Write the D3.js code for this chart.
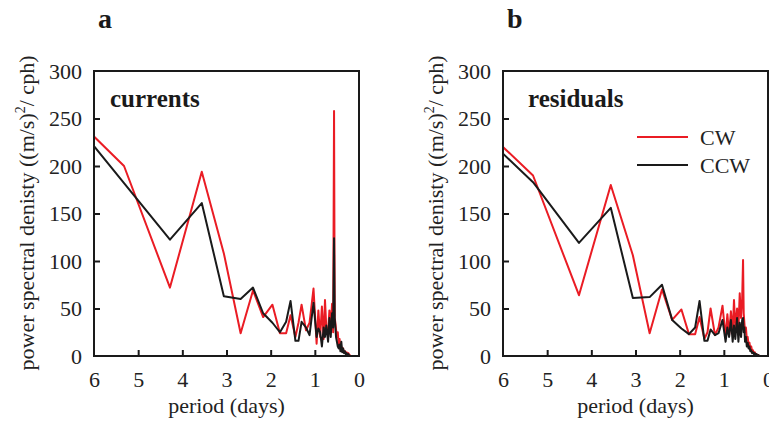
<!DOCTYPE html>
<html><head><meta charset="utf-8">
<script src="https://cdn.jsdelivr.net/npm/d3@7"></script>
<style>body{margin:0;background:#fff}svg{display:block}</style>
</head><body>
<svg id="c" width="769" height="424"></svg>
<script>
// period (days) for each spectral estimate
const periods = [6, 5.32, 4.28, 3.56, 3.06, 2.68, 2.40, 2.17, 1.96, 1.79,
  1.65, 1.55, 1.44, 1.37, 1.30, 1.20, 1.12, 1.03, 0.96, 0.92,
  0.88, 0.84, 0.80, 0.77, 0.74, 0.70, 0.67, 0.64, 0.61, 0.585,
  0.565, 0.55, 0.535, 0.52, 0.50, 0.48, 0.46, 0.44, 0.42, 0.40,
  0.38, 0.36, 0.34, 0.32, 0.30, 0.28, 0.26, 0.24, 0.22, 0.20];
// panel a: currents
const cwCurrents = [231, 200, 72, 194, 108, 24, 69, 41, 54, 24,
  24, 43, 20, 35, 54, 27, 35, 71, 13, 48,
  20, 52, 18, 59, 30, 25, 48, 30, 55, 25,
  258, 40, 35, 28, 20, 25, 12, 18, 8, 10,
  6, 8, 4, 5, 3, 4, 2, 3, 1, 2];
const ccwCurrents = [221, 182, 122.5, 161, 63, 60, 72, 45, 35, 25,
  36, 58, 16, 16, 36, 30, 22, 56, 20, 29,
  25, 10, 30, 20, 32, 15, 40, 20, 45, 30,
  124, 40, 30, 20, 15, 10, 8, 12, 5, 15,
  4, 8, 3, 5, 2, 3, 1, 2, 0, 1];
// panel b: residuals
const cwResiduals = [220, 190, 64, 180, 106, 24, 70, 38, 49, 23,
  23, 41, 18, 25, 50, 22, 30, 53, 20, 44,
  22, 47, 25, 59, 30, 50, 28, 66, 40, 60,
  101, 45, 35, 25, 30, 18, 20, 12, 14, 8,
  10, 5, 6, 3, 4, 2, 2, 1, 1, 0];
const ccwResiduals = [213, 183, 119, 156, 61, 62, 75, 38, 29, 23,
  30, 58, 16, 16, 28, 22, 24, 38, 15, 30,
  20, 38, 15, 32, 18, 40, 15, 35, 20, 38,
  40, 25, 30, 15, 20, 10, 14, 8, 10, 5,
  6, 3, 4, 2, 3, 1, 2, 0, 1, 0];
const xTicks = [6, 5, 4, 3, 2, 1, 0];
const yTicks = [0, 50, 100, 150, 200, 250, 300];
const seriesNames = ["CW", "CCW"];
const seriesColors = ["#ea1c24", "#1a1a1a"];

const panels = [
  {letter: "a", label: "currents", left: 94, series: [cwCurrents, ccwCurrents], legend: false},
  {letter: "b", label: "residuals", left: 503, series: [cwResiduals, ccwResiduals], legend: true}
];

const svg = d3.select("#c");
const W = 265, plotTop = 71, plotBottom = 356;
const serif = "'Liberation Serif','Times New Roman',serif";

panels.forEach((p, pi) => {
  const x = d3.scaleLinear().domain([6, 0]).range([p.left, p.left + W]);
  const y = d3.scaleLinear().domain([0, 300]).range([plotBottom, plotTop]);
  const g = svg.append("g");
  const cid = "clip" + pi;
  svg.append("clipPath").attr("id", cid).append("rect")
    .attr("x", p.left).attr("y", plotTop - 2).attr("width", W).attr("height", plotBottom - plotTop + 2);

  const line = d3.line().x((d, i) => x(periods[i])).y(d => y(d));
  p.series.forEach((s, si) => {
    g.append("path").datum(s).attr("clip-path", `url(#${cid})`)
      .attr("fill", "none").attr("stroke", seriesColors[si]).attr("stroke-width", 2)
      .attr("stroke-linejoin", "round").attr("d", line);
  });

  const xa = g.append("g").attr("transform", `translate(0,${plotBottom})`)
    .call(d3.axisBottom(x).tickValues(xTicks).tickSize(-6).tickPadding(15).tickFormat(d3.format("d")));
  const ya = g.append("g").attr("transform", `translate(${p.left},0)`)
    .call(d3.axisLeft(y).tickValues(yTicks).tickSize(-6).tickPadding(12).tickFormat(d3.format("d")));
  [xa, ya].forEach(a => {
    a.select(".domain").remove();
    a.selectAll("line").attr("stroke", "#1a1a1a").attr("stroke-width", 2);
    a.selectAll("text").attr("font-family", serif).attr("font-size", 22).attr("fill", "#222");
  });
  xa.selectAll(".tick").filter(d => d === 6 || d === 0).select("line").remove();
  ya.selectAll(".tick").filter(d => d === 0 || d === 300).select("line").remove();

  g.append("rect").attr("x", p.left).attr("y", plotTop).attr("width", W).attr("height", plotBottom - plotTop)
    .attr("fill", "none").attr("stroke", "#1a1a1a").attr("stroke-width", 2);

  g.append("text").attr("x", p.left + W / 2).attr("y", 413).attr("text-anchor", "middle")
    .attr("font-family", serif).attr("font-size", 22).attr("fill", "#222").text("period (days)");

  const yl = g.append("text").attr("transform", `translate(${p.left - 60},213) rotate(-90)`)
    .attr("text-anchor", "middle").attr("font-family", serif).attr("font-size", 22).attr("fill", "#222");
  yl.append("tspan").text("power spectral denisty ((m/s)");
  yl.append("tspan").attr("font-size", 14).attr("dy", -9).text("2");
  yl.append("tspan").attr("dy", 9).text("/ cph)");

  g.append("text").attr("x", p.left + 4).attr("y", 28).attr("font-family", serif)
    .attr("font-weight", "bold").attr("font-size", 28).attr("fill", "#1a1a1a").text(p.letter);
  g.append("text").attr("x", p.left + 16 + (pi ? 9 : 0)).attr("y", 107).attr("font-family", serif)
    .attr("font-weight", "bold").attr("font-size", 25).attr("fill", "#1a1a1a").text(p.label);

  if (p.legend) {
    seriesNames.forEach((n, i) => {
      const ly = 137 + i * 28;
      g.append("line").attr("x1", p.left + 134).attr("x2", p.left + 185).attr("y1", ly).attr("y2", ly)
        .attr("stroke", seriesColors[i]).attr("stroke-width", 2);
      g.append("text").attr("x", p.left + 197).attr("y", ly + 8).attr("font-family", serif)
        .attr("font-size", 22).attr("fill", "#222").text(n);
    });
  }
});
</script>
</body></html>
